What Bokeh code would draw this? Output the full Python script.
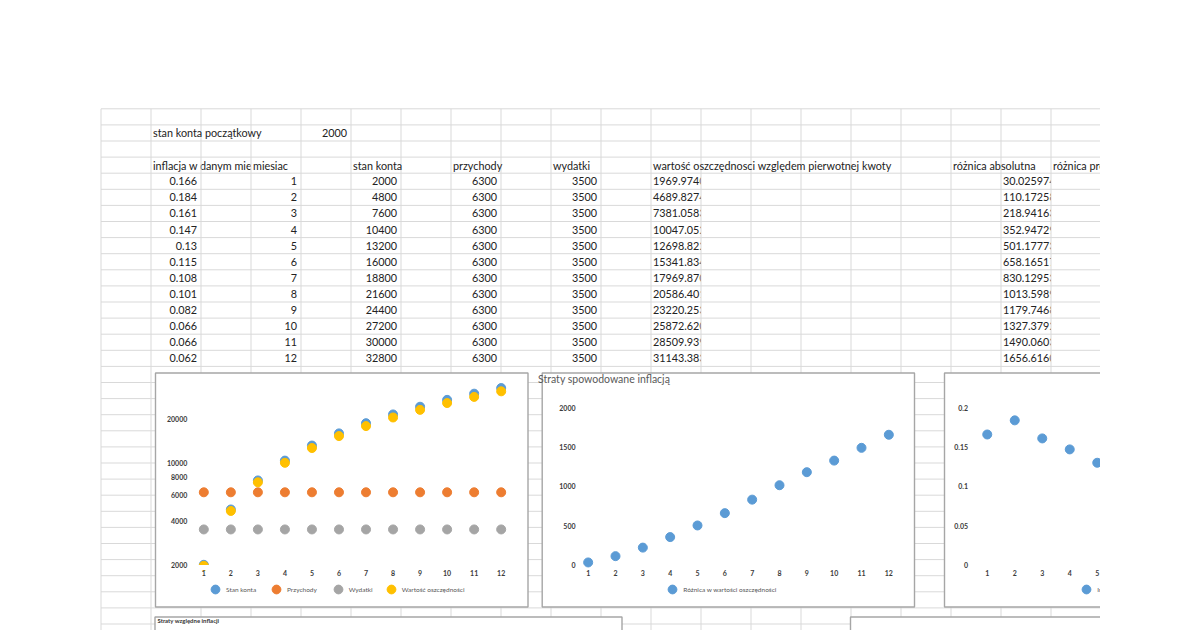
import math
from bokeh.plotting import figure
from bokeh.models import (Range1d, Legend, LegendItem, ColumnDataSource, CustomJSTransform,
                          BoxAnnotation)
from bokeh.transform import transform
from bokeh.core.properties import value
from bokeh.embed import file_html
from bokeh.resources import INLINE

# ---------------- data ----------------
start_label = "stan konta początkowy"
start_balance = 2000
col_headers = ["inflacja w danym miesiącu", "miesiac", "stan konta", "przychody", "wydatki",
               "wartość oszczędnosci względem pierwotnej kwoty", "różnica absolutna", "różnica procentowa"]
months = [1, 2, 3, 4, 5, 6, 7, 8, 9, 10, 11, 12]
inflation = [0.166, 0.184, 0.161, 0.147, 0.13, 0.115, 0.108, 0.101, 0.082, 0.066, 0.066, 0.062]
balance = [2000, 4800, 7600, 10400, 13200, 16000, 18800, 21600, 24400, 27200, 30000, 32800]
income = [6300, 6300, 6300, 6300, 6300, 6300, 6300, 6300, 6300, 6300, 6300, 6300]
expenses = [3500, 3500, 3500, 3500, 3500, 3500, 3500, 3500, 3500, 3500, 3500, 3500]
real_value = [1969.9740, 4689.8274, 7381.0583, 10047.052, 12698.822, 15341.834,
              17969.870, 20586.401, 23220.253, 25872.620, 28509.939, 31143.383]
abs_diff = [30.025974, 110.17258, 218.94163, 352.94729, 501.17773, 658.16517,
            830.12953, 1013.5989, 1179.7468, 1327.3792, 1490.0603, 1656.6160]

series_names = ["Stan konta", "Przychody", "Wydatki", "Wartość oszczędności"]
series_colors = ["#5B9BD5", "#ED7D31", "#A5A5A5", "#FFC000"]
chart2_title = "Straty spowodowane inflacją"
chart2_series = "Różnica w wartości oszczędności"
chart3_series = "Inflacja w danym miesiącu"
chart4_title = "Straty względne inflacji"
c1_ticks = [2000, 4000, 6000, 8000, 10000, 20000]
c2_ticks = [0, 500, 1000, 1500, 2000]
c3_ticks = [0, 0.05, 0.1, 0.15, 0.2]
c3_xticks = [1, 2, 3, 4, 5]          # only these month labels are inside the visible sheet

# ---------------- styles ----------------
FONT = value("Lato")
TABLE_SIZE = "10.8px"
TXT = "#222222"
GRID = "#d9d9d9"
BOX = "#a6a6a6"
TICK_SIZE = "7px"
TICK_COL = "#3b3b3b"
LEG_SIZE = "6.5px"
LEG_COL = "#595959"
W, H = 1200, 630

p = figure(width=W, height=H, x_range=Range1d(0, W), y_range=Range1d(H, 0),
           output_backend="svg", toolbar_location=None, x_axis_type=None, y_axis_type=None,
           min_border=0, outline_line_color=None, background_fill_color="white")
p.grid.visible = False

# ---------------- spreadsheet ----------------
N_COLS, N_ROWS = 20, 33
sheet = p.subplot(x_source=Range1d(0, N_COLS), y_source=Range1d(0, N_ROWS),
                  x_target=Range1d(100.5, 1100.5), y_target=Range1d(108.3, 108.3 + 16.1 * N_ROWS))

data_rows = [4 + i for i in range(len(months))]
tkw = dict(text_font=FONT, text_font_size=TABLE_SIZE, text_color=TXT, text_baseline="middle")

# texts clipped by neighbouring cells (drawn before masks)
sheet.text(x=[1], y=[3.5], text=[col_headers[0]], x_offset=2, text_align="left", **tkw)
sheet.text(x=[11] * 12, y=[r + 0.5 for r in data_rows], text=[f"{v:.6f}" for v in real_value],
           x_offset=2, text_align="left", **tkw)
sheet.text(x=[18] * 12, y=[r + 0.5 for r in data_rows], text=[f"{v:.7f}" for v in abs_diff],
           x_offset=2, text_align="left", **tkw)
# cell clipping masks
sheet.quad(left=[3, 12, 19], right=[5, 14, 20], top=[3, 4, 4], bottom=[4, 16, 16],
           fill_color="white", line_color=None)

# grid lines
sheet.segment(x0=list(range(N_COLS + 1)), y0=[0] * (N_COLS + 1), x1=list(range(N_COLS + 1)),
              y1=[N_ROWS] * (N_COLS + 1), line_color=GRID, line_width=1)
sheet.segment(x0=[0] * (N_ROWS + 1), y0=list(range(N_ROWS + 1)), x1=[N_COLS] * (N_ROWS + 1),
              y1=list(range(N_ROWS + 1)), line_color=GRID, line_width=1)

# top block
sheet.text(x=[1], y=[1.5], text=[start_label], x_offset=2, text_align="left", **tkw)
sheet.text(x=[5], y=[1.5], text=[str(start_balance)], x_offset=-4, text_align="right", **tkw)
sheet.text(x=[3, 5, 7, 9, 11, 17, 19], y=[3.5] * 7, text=col_headers[1:], x_offset=2,
           text_align="left", **tkw)
for col, vals in [(2, inflation), (4, months), (6, balance), (8, income), (10, expenses)]:
    sheet.text(x=[col] * len(vals), y=[r + 0.5 for r in data_rows], text=[str(v) for v in vals],
               x_offset=-4, text_align="right", **tkw)

# ---------------- chart frames ----------------
p.quad(left=[155, 541.7, 944, 154.5, 850], right=[527.5, 914, 1140, 621.5, 1140],
       top=[372.5, 372.5, 372.5, 616.5, 616.5], bottom=[606.5, 606.5, 606.5, 660, 660],
       fill_color="white", line_color=BOX, line_width=1.4)

ticks_kw = dict(text_font=FONT, text_font_size=TICK_SIZE, text_color=TICK_COL,
                text_font_style="bold", text_baseline="middle")


def legend_for(renderer, label, cx, cy):
    lg = Legend(items=[LegendItem(label=label, renderers=[renderer])],
                location=(cx - 11, H - cy - 11), orientation="horizontal",
                glyph_width=22, glyph_height=22, label_height=22, label_width=1,
                label_standoff=0, padding=0, margin=0, spacing=0,
                border_line_alpha=0, background_fill_alpha=0,
                label_text_font="Lato", label_text_font_size=LEG_SIZE, label_text_color=LEG_COL)
    p.add_layout(lg)


# ---- chart 1 (logarithmic value axis) ----
log10 = CustomJSTransform(v_func="return xs.map((v) => Math.log10(v))")
c1 = p.subplot(x_source=Range1d(0.5, 12.5), y_source=Range1d(math.log10(2000), math.log10(40000)),
               x_target=Range1d(189.8, 514.2), y_target=Range1d(564.3, 375.0))
rs = []
for vals, col in zip([balance, income, expenses, real_value], series_colors):
    src = ColumnDataSource(dict(x=months, y=vals))
    rs.append(c1.scatter(x="x", y=transform("y", log10), source=src, size=9, marker="circle",
                         fill_color=col, line_color=col))
# plot-area clip below the axis minimum
p.quad(left=[189.8], right=[514.2], top=[564.6], bottom=[569.6], fill_color="white", line_color=None)
t1 = ColumnDataSource(dict(x=[0.5] * len(c1_ticks), y=c1_ticks, t=[str(t) for t in c1_ticks]))
c1.text(x="x", y=transform("y", log10), text="t", source=t1, x_offset=-3, text_align="right", **ticks_kw)
t1x = ColumnDataSource(dict(x=months, y=[2000] * 12, t=[str(m) for m in months]))
c1.text(x="x", y=transform("y", log10), text="t", source=t1x, y_offset=8, text_align="center", **ticks_kw)
for r, name, cx in zip(rs, series_names, [215, 276, 337.7, 390.7]):
    legend_for(r, name, cx, 589.3)

# ---- chart 2 ----
p.text(x=[537.5], y=[378.5], text=[chart2_title], text_font=FONT, text_font_size="10.5px",
       text_color="#595959", text_baseline="middle", text_align="left")
c2 = p.subplot(x_source=Range1d(0.5, 12.5), y_source=Range1d(0, 2000),
               x_target=Range1d(574.0, 902.0), y_target=Range1d(564.3, 407.3))
r2 = c2.scatter(months, abs_diff, size=9, marker="circle", fill_color=series_colors[0],
                line_color=series_colors[0])
c2.text(x=[0.5] * len(c2_ticks), y=c2_ticks, text=[str(t) for t in c2_ticks], x_offset=1,
        text_align="right", **ticks_kw)
c2.text(x=months, y=[0] * 12, text=[str(m) for m in months], y_offset=8, text_align="center", **ticks_kw)
legend_for(r2, chart2_series, 672.3, 589.3)

# ---- chart 3 ----
c3 = p.subplot(x_source=Range1d(0.5, 12.5), y_source=Range1d(0, 0.2),
               x_target=Range1d(973.0, 1303.0), y_target=Range1d(564.3, 407.3))
r3 = c3.scatter(months, inflation, size=9, marker="circle", fill_color=series_colors[0],
                line_color=series_colors[0])
c3.text(x=[0.5] * len(c3_ticks), y=c3_ticks, text=[str(t) for t in c3_ticks], x_offset=-5.5,
        text_align="right", **ticks_kw)
c3.text(x=c3_xticks, y=[0] * len(c3_xticks), text=[str(m) for m in c3_xticks], y_offset=8,
        text_align="center", **ticks_kw)
# legend marker; its label is drawn as text so that the sheet edge can cut it off
legend_for(r3, " ", 1085.7, 589.3)
p.text(x=[1096.7], y=[589.3], text=[chart3_series], text_font=FONT, text_font_size=LEG_SIZE,
       text_color=LEG_COL, text_baseline="middle", text_align="left")

# ---- chart 4 title (bottom, mostly out of view) ----
p.text(x=[157], y=[620], text=[chart4_title], text_font=FONT, text_font_size="6px",
       text_font_style="bold", text_color="#333333", text_baseline="middle", text_align="left")

# sheet edge: everything right of the visible sheet is blank
p.add_layout(BoxAnnotation(left=1099.5, fill_color="white", fill_alpha=1.0, line_alpha=0,
                           level="overlay"))

open("out.html", "w").write(file_html(p, INLINE))
